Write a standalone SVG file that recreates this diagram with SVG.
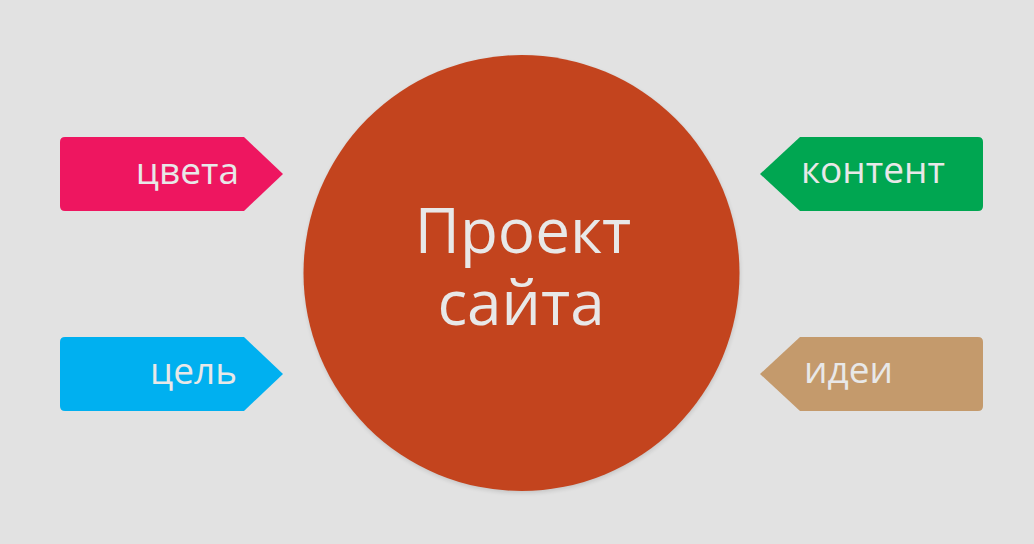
<svg xmlns="http://www.w3.org/2000/svg" width="1034" height="544" viewBox="0 0 1034 544">
<style>
.lbl{font-family:"Open Sans","DejaVu Sans",sans-serif;font-size:37px;fill:#E8E8E8}
.big{font-family:"Open Sans","DejaVu Sans",sans-serif;font-size:62px;fill:#E8E8E8;text-anchor:middle}
</style>
<defs>
<filter id="sh" x="-10%" y="-10%" width="120%" height="120%">
<feGaussianBlur stdDeviation="2"/>
</filter>
</defs>
<rect width="1034" height="544" fill="#E2E2E2"/>
<g id="connectors"></g>
<g id="center">
<circle cx="522" cy="275" r="218" fill="#000" opacity="0.12" filter="url(#sh)"/>
<circle cx="521.5" cy="273" r="218" fill="#C3441E"/>
<text class="big" x="523" y="253">Проект</text>
<text class="big" x="521" y="325">сайта</text>
</g>
<g id="tsveta">
<path d="M65,137 H244 L283,174 L244,211 H65 Q60,211 60,206 V142 Q60,137 65,137 Z" fill="#EE1660"/>
<text class="lbl" x="239" y="184" text-anchor="end">цвета</text>
</g>
<g id="tsel">
<path d="M65,337 H244 L283,374 L244,411 H65 Q60,411 60,406 V342 Q60,337 65,337 Z" fill="#00B0F0"/>
<text class="lbl" x="237" y="384" text-anchor="end">цель</text>
</g>
<g id="kontent">
<path d="M760,174 L800,137 H978 Q983,137 983,142 V206 Q983,211 978,211 H800 Z" fill="#00A651"/>
<text class="lbl" x="801" y="183">контент</text>
</g>
<g id="idei">
<path d="M760,374 L800,337 H978 Q983,337 983,342 V406 Q983,411 978,411 H800 Z" fill="#C49A6C"/>
<text class="lbl" x="804" y="383">идеи</text>
</g>
</svg>
